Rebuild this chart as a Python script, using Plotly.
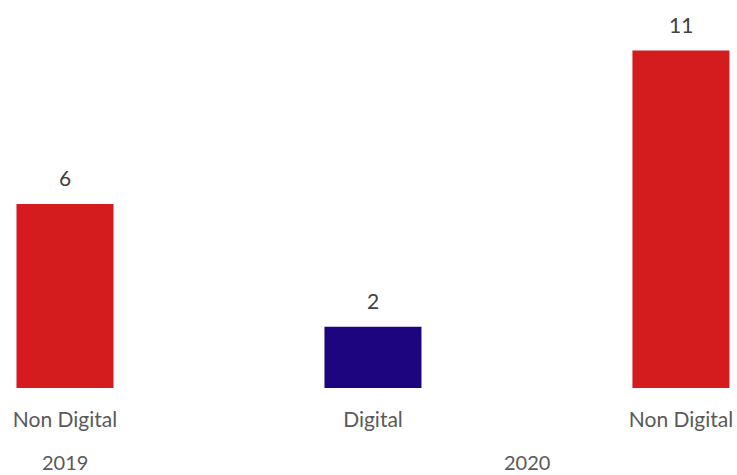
import plotly.graph_objects as go

# Data
years = ["2019", "2020", "2020"]
categories = ["Non Digital", "Digital", "Non Digital"]
values = [6, 2, 11]
colors = ["#D41C1F", "#1E0580", "#D41C1F"]

x_pos = list(range(len(values)))
FONT = "Lato, Open Sans, sans-serif"

fig = go.Figure()
fig.add_trace(go.Bar(
    x=x_pos,
    y=values,
    width=0.315,
    marker=dict(color=colors, line=dict(width=0)),
    hoverinfo="skip",
))

# Value labels above bars
for xi, v in zip(x_pos, values):
    fig.add_annotation(
        x=xi, y=v, text=str(v), showarrow=False,
        yanchor="bottom", yshift=12,
        font=dict(family=FONT, size=21, color="#404040"),
    )

# Year group labels, centered under each group of categories
groups = {}
for xi, yr in zip(x_pos, years):
    groups.setdefault(yr, []).append(xi)
for yr, xs in groups.items():
    fig.add_annotation(
        x=sum(xs) / len(xs), y=0, yref="y", text=yr, showarrow=False,
        yanchor="middle", yshift=-74,
        font=dict(family=FONT, size=20, color="#595959"),
    )

fig.update_layout(
    width=737, height=475,
    margin=dict(l=0, r=0, t=0, b=87),
    paper_bgcolor="white", plot_bgcolor="white",
    showlegend=False,
    xaxis=dict(
        range=[-0.211, 2.182],
        tickvals=x_pos, ticktext=categories,
        showgrid=False, zeroline=False, showline=False, ticks="",
        tickfont=dict(family=FONT, size=21, color="#595959"),
        ticklabelstandoff=17,
    ),
    yaxis=dict(
        range=[0, 12.65], visible=False, showgrid=False, zeroline=False,
    ),
)

fig.write_html("out.html")
